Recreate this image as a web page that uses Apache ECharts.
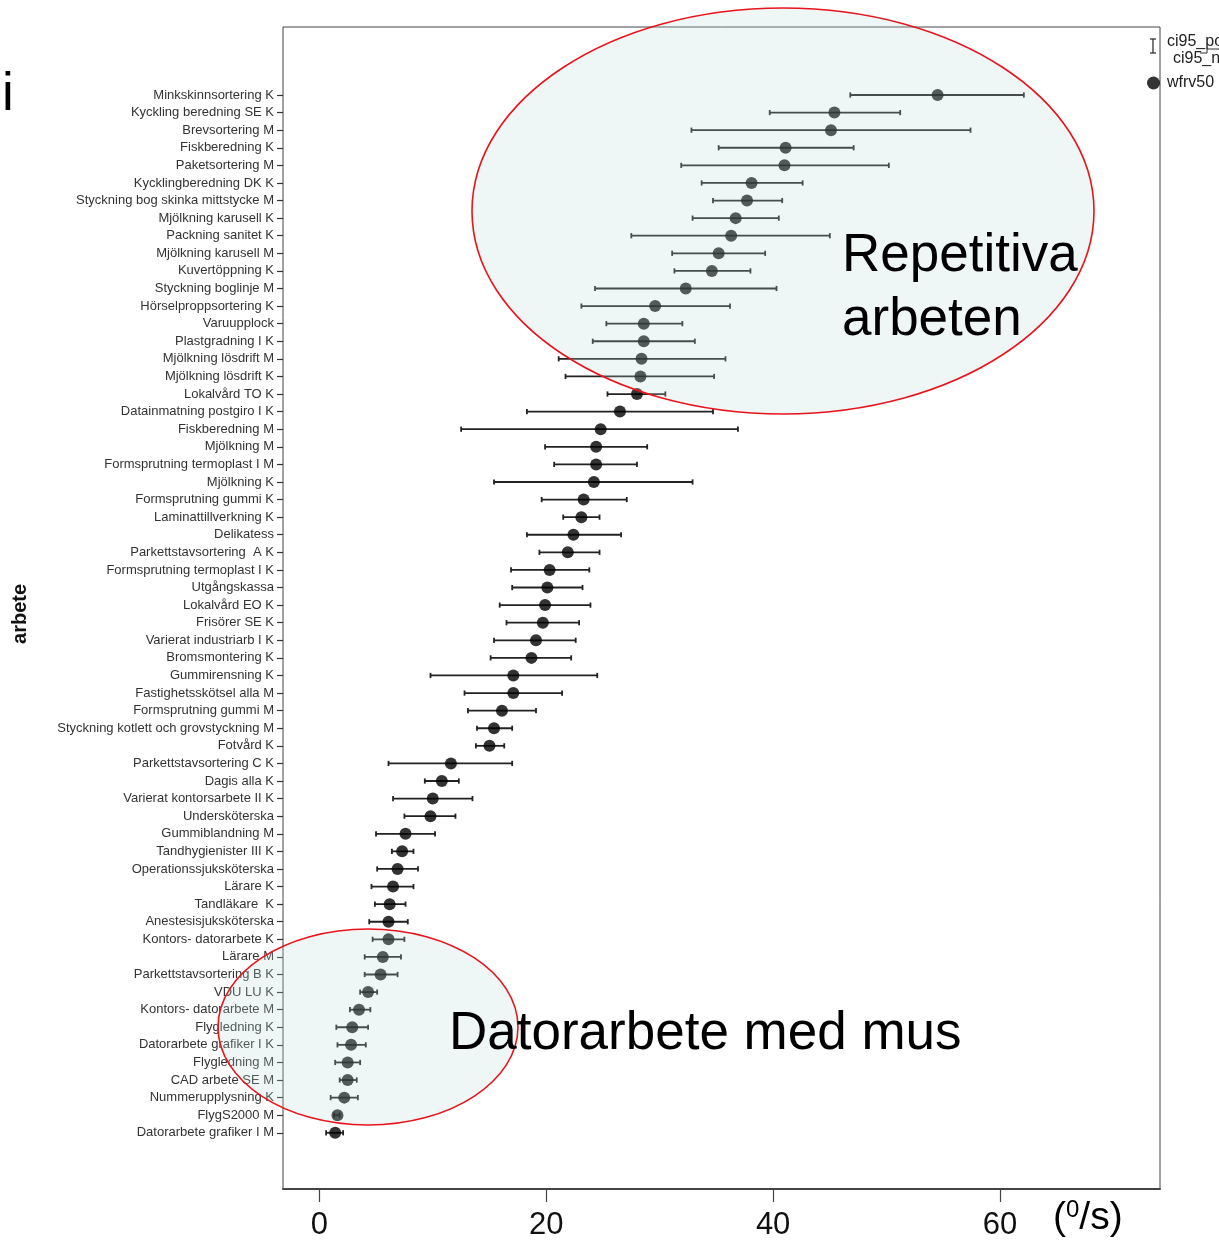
<!DOCTYPE html>
<html>
<head>
<meta charset="utf-8">
<script src="https://cdn.jsdelivr.net/npm/echarts@6/dist/echarts.min.js"></script>
<style>
html,body{margin:0;padding:0;background:#fff;}
#chart{width:1219px;height:1241px;}
</style>
</head>
<body>
<div id="chart"></div>
<script>
const categories = [
  "Minkskinnsortering K","Kyckling beredning SE K","Brevsortering M","Fiskberedning K","Paketsortering M",
  "Kycklingberedning DK K","Styckning bog skinka mittstycke M","Mjölkning karusell K","Packning sanitet K","Mjölkning karusell M",
  "Kuvertöppning K","Styckning boglinje M","Hörselproppsortering K","Varuupplock","Plastgradning I K",
  "Mjölkning lösdrift M","Mjölkning lösdrift K","Lokalvård TO K","Datainmatning postgiro I K","Fiskberedning M",
  "Mjölkning M","Formsprutning termoplast I M","Mjölkning K","Formsprutning gummi K","Laminattillverkning K",
  "Delikatess","Parkettstavsortering  A K","Formsprutning termoplast I K","Utgångskassa","Lokalvård EO K",
  "Frisörer SE K","Varierat industriarb I K","Bromsmontering K","Gummirensning K","Fastighetsskötsel alla M",
  "Formsprutning gummi M","Styckning kotlett och grovstyckning M","Fotvård K","Parkettstavsortering C K","Dagis alla K",
  "Varierat kontorsarbete II K","Undersköterska","Gummiblandning M","Tandhygienister III K","Operationssjuksköterska",
  "Lärare K","Tandläkare  K","Anestesisjuksköterska","Kontors- datorarbete K","Lärare M",
  "Parkettstavsortering B K","VDU LU K","Kontors- datorarbete M","Flygledning K","Datorarbete grafiker I K",
  "Flygledning M","CAD arbete SE M","Nummerupplysning K","FlygS2000 M","Datorarbete grafiker I M"
];
const pointValues = [
  54.5,45.4,45.1,41.1,41.0,38.1,37.7,36.7,36.3,35.2,34.6,32.3,29.6,28.6,28.6,28.4,28.3,28.0,
  26.5,24.8,24.4,24.4,24.2,23.3,23.1,22.4,21.9,20.3,20.1,19.9,19.7,19.1,18.7,17.1,17.1,16.1,15.4,15.0,
  11.6,10.8,10.0,9.8,7.6,7.3,6.9,6.5,6.2,6.1,6.1,5.6,5.4,4.3,3.5,2.9,2.8,2.5,2.5,2.2,1.6,1.4
];
const ciLow = [
  46.8,39.7,32.8,35.2,31.9,33.7,34.7,32.9,27.5,31.1,31.3,24.3,23.1,25.3,24.1,21.1,21.7,25.4,
  18.3,12.5,19.9,20.7,15.4,19.6,21.5,18.3,19.4,16.9,17.0,15.9,16.5,15.4,15.1,9.8,12.8,13.1,13.9,13.8,
  6.1,9.3,6.5,7.5,5.0,6.4,5.1,4.6,4.9,4.4,4.7,4.0,4.0,3.6,2.7,1.5,1.6,1.4,1.8,1.0,1.3,0.6
];
const ciHigh = [
  62.1,51.2,57.4,47.1,50.2,42.6,40.8,40.5,45.0,39.3,38.0,40.3,36.2,32.0,33.1,35.8,34.8,30.5,
  34.7,36.9,28.9,28.0,32.9,27.1,24.7,26.6,24.7,23.8,23.2,23.9,22.9,22.6,22.2,24.5,21.4,19.1,17.0,16.3,
  17.0,12.3,13.5,12.0,10.2,8.3,8.7,8.3,7.6,7.8,7.5,7.2,6.9,5.1,4.5,4.3,4.1,3.6,3.3,3.4,1.8,2.1
];
const xTicks = [0, 20, 40, 60];
const xMin = -3.2, xMax = 74.1;

const FONT = "'Liberation Sans', Arial, Helvetica, sans-serif";
const chart = echarts.init(document.getElementById('chart'), null, {renderer: 'canvas'});

const errData = categories.map((c, i) => [i, ciLow[i], ciHigh[i]]);
const ptData = categories.map((c, i) => [pointValues[i], i]);

const option = {
  backgroundColor: '#fff',
  animation: false,
  grid: [
    {left: 283, top: 27, width: 877, height: 1163, show: true, borderColor: '#444', borderWidth: 1, backgroundColor: 'transparent'},
    {left: 283, top: 86.2, width: 877, height: 1055.4}
  ],
  xAxis: [
    {
      gridIndex: 0, type: 'value', min: xMin, max: xMax,
      splitLine: {show: false},
      axisLine: {show: true, onZero: false, lineStyle: {color: '#444', width: 2}},
      axisTick: {show: true, length: 13, lineStyle: {color: '#444', width: 1.2}, customValues: xTicks},
      axisLabel: {margin: 21, fontSize: 31, color: '#111', fontFamily: FONT, customValues: xTicks}
    },
    {gridIndex: 1, type: 'value', min: xMin, max: xMax, show: false}
  ],
  yAxis: [
    {
      gridIndex: 1, type: 'category', data: categories, inverse: true,
      name: 'arbete', nameLocation: 'middle', nameGap: 253,
      nameTextStyle: {fontSize: 20, fontWeight: 'bold', color: '#111', fontFamily: FONT},
      axisLine: {show: false, onZero: false},
      axisTick: {show: true, alignWithLabel: true, length: 6, lineStyle: {color: '#333', width: 1.2}},
      axisLabel: {interval: 0, margin: 9, fontSize: 13, color: '#333', fontFamily: FONT},
      splitLine: {show: false}
    },
    {gridIndex: 0, type: 'value', show: false}
  ],
  legend: {
    data: [{name: 'wfrv50', icon: 'circle'}],
    left: 1147, top: 75, orient: 'vertical', padding: 0,
    itemWidth: 13, itemHeight: 13, itemGap: 4,
    textStyle: {fontSize: 16, color: '#222', fontFamily: FONT, padding: [0, 0, 0, 2]}
  },
  series: [
    {
      name: 'ci95_pos',
      type: 'custom',
      xAxisIndex: 1, yAxisIndex: 0,
      encode: {x: [1, 2], y: 0},
      data: errData,
      z: 2,
      renderItem: function (params, api) {
        const yi = api.value(0);
        const p1 = api.coord([api.value(1), yi]);
        const p2 = api.coord([api.value(2), yi]);
        const h = 2.6;
        const st = {stroke: '#222', lineWidth: 1.8};
        return {
          type: 'group',
          children: [
            {type: 'line', shape: {x1: p1[0], y1: p1[1], x2: p2[0], y2: p2[1]}, style: st},
            {type: 'line', shape: {x1: p1[0], y1: p1[1] - h, x2: p1[0], y2: p1[1] + h}, style: st},
            {type: 'line', shape: {x1: p2[0], y1: p2[1] - h, x2: p2[0], y2: p2[1] + h}, style: st}
          ]
        };
      }
    },
    {
      name: 'wfrv50',
      type: 'scatter',
      xAxisIndex: 1, yAxisIndex: 0,
      data: ptData,
      symbol: 'circle', symbolSize: 12,
      itemStyle: {color: '#000'},
      z: 3
    }
  ],
  graphic: [
    {type: 'ellipse', z: 100, shape: {cx: 783, cy: 211, rx: 311, ry: 203},
      style: {fill: 'rgba(185,218,218,0.24)', stroke: '#e8141c', lineWidth: 1.6}},
    {type: 'ellipse', z: 100, shape: {cx: 368, cy: 1027, rx: 150, ry: 98},
      style: {fill: 'rgba(185,218,218,0.24)', stroke: '#e8141c', lineWidth: 1.6}},
    {type: 'text', z: 110, x: 842, y: 256, style: {text: 'Repetitiva', font: '53px ' + FONT, fill: '#000', verticalAlign: 'middle'}},
    {type: 'text', z: 110, x: 842, y: 320, style: {text: 'arbeten', font: '53px ' + FONT, fill: '#000', verticalAlign: 'middle'}},
    {type: 'text', z: 110, x: 449, y: 1034, style: {text: 'Datorarbete med mus', font: '53px ' + FONT, fill: '#000', verticalAlign: 'middle'}},
    {type: 'text', z: 110, x: 2, y: 95, style: {text: 'i', font: '53px ' + FONT, fill: '#000', verticalAlign: 'middle'}},
    {type: 'text', z: 110, x: 1053, y: 1218, style: {
      text: '{p|(}{s|0}{p|/s)}', verticalAlign: 'middle',
      rich: {
        p: {fontSize: 39, fontFamily: FONT, fill: '#000', lineHeight: 40},
        s: {fontSize: 24, fontFamily: FONT, fill: '#000', verticalAlign: 'top', lineHeight: 40}
      }
    }},
    {type: 'group', z: 110, children: [
      {type: 'line', shape: {x1: 1153, y1: 39, x2: 1153, y2: 53}, style: {stroke: '#333', lineWidth: 1.3}},
      {type: 'line', shape: {x1: 1150, y1: 39, x2: 1156, y2: 39}, style: {stroke: '#333', lineWidth: 1.3}},
      {type: 'line', shape: {x1: 1150, y1: 53, x2: 1156, y2: 53}, style: {stroke: '#333', lineWidth: 1.3}},
      {type: 'polyline', shape: {points: [[1200, 53], [1207, 53], [1207, 49], [1219, 49]]}, style: {stroke: '#333', lineWidth: 1, fill: null}}
    ]},
    {type: 'text', z: 110, x: 1167, y: 42, style: {text: 'ci95_pos', font: '16px ' + FONT, fill: '#222', verticalAlign: 'middle'}},
    {type: 'text', z: 110, x: 1173, y: 59, style: {text: 'ci95_neg', font: '16px ' + FONT, fill: '#222', verticalAlign: 'middle'}}
  ]
};
chart.setOption(option);
</script>
</body>
</html>
